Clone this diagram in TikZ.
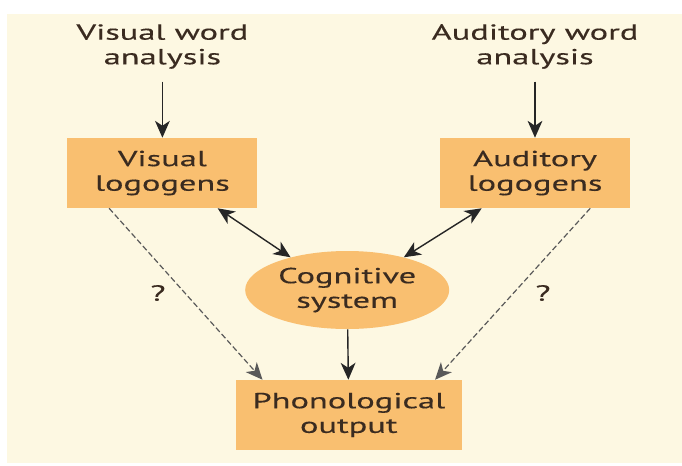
\documentclass[tikz,border=0pt]{standalone}
\usepackage{fontspec}
\setmainfont{PT Sans}[FakeStretch=1.58,FakeBold=0.3]
\usepackage{xcolor}
\usepackage{tikz}
\usetikzlibrary{arrows.meta,positioning,shapes.geometric}

\definecolor{panelbg}{HTML}{FDF8E2}
\definecolor{boxfill}{HTML}{F9BF70}
\definecolor{inkbrown}{HTML}{3A2B20}

\begin{document}
\begin{tikzpicture}[
  tip/.tip={Stealth[length=12pt,width=10.5pt,inset=3.5pt]},
  txt/.style={align=center, text=inkbrown, font=\fontsize{15.5}{17.5}\selectfont},
  stage/.style={txt, fill=boxfill, minimum height=1.75cm, minimum width=4.75cm},
  cogn/.style={txt, ellipse, fill=boxfill, minimum height=1.95cm, minimum width=5.1cm, inner sep=0pt},
  qmark/.style={txt},
  arr/.style={-tip, line width=1pt, draw=black!85},
  arrboth/.style={tip-tip, line width=1pt, draw=black!85},
  guess/.style={-tip, line width=0.85pt, draw=black!65, dash pattern=on 4pt off 2pt}
]
\useasboundingbox (0,0) rectangle (17.05,-11.625);
\fill[panelbg] (0.175,-0.35) rectangle (17.05,-11.575);

% logogen boxes
\node[stage] (vlog) at (4.06,-4.325) {Visual\\logogens};
\node[stage] (alog) at (13.375,-4.325) {Auditory\\logogens};

% word analysis
\node[txt, above=1.6cm of vlog] (vwa) {Visual word\\analysis};
\node[txt, above=1.6cm of alog] (awa) {Auditory word\\analysis};

% centre and output
\node[cogn] (cog) at (8.68,-7.25) {Cognitive\\system};
\node[stage, minimum width=5.65cm] (phon) at (8.72,-10.375) {Phonological\\output};

\node[qmark] (q1) at (3.95,-7.325) {?};
\node[qmark] (q2) at (13.575,-7.325) {?};

\draw[arr, shorten <=0.2cm] (vwa) -- (vlog);
\draw[arr, shorten <=0.2cm] (awa) -- (alog);
\draw[arrboth] ([xshift=-1cm]vlog.south east) -- (cog.150);
\draw[arrboth] ([xshift=1.05cm]alog.south west) -- (cog.30);
\draw[arr] (cog) -- (phon);
\draw[guess] ([xshift=1.05cm]vlog.south west) -- ([xshift=0.675cm]phon.north west);
\draw[guess] ([xshift=-1cm]alog.south east) -- ([xshift=-0.675cm]phon.north east);

\end{tikzpicture}
\end{document}
